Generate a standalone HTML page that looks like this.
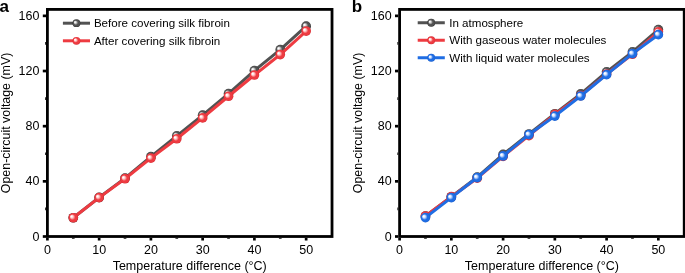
<!DOCTYPE html>
<html><head><meta charset="utf-8"><style>
html,body{margin:0;padding:0;background:#fff;width:685px;height:273px;overflow:hidden}
svg{display:block;will-change:transform}
</style></head><body>
<svg width="685" height="273" viewBox="0 0 685 273">
<defs><radialGradient id="ggray" cx="0.5" cy="0.5" r="0.5" fx="0.29" fy="0.34">
<stop offset="0" stop-color="#ffffff"/><stop offset="0.1" stop-color="#ffffff" stop-opacity="1"/><stop offset="0.3" stop-color="#c8c8c8"/><stop offset="0.6" stop-color="#525252"/><stop offset="0.85" stop-color="#525252"/><stop offset="1" stop-color="#2e2e2e"/></radialGradient><radialGradient id="gred" cx="0.5" cy="0.5" r="0.5" fx="0.29" fy="0.34">
<stop offset="0" stop-color="#ffffff"/><stop offset="0.1" stop-color="#ffffff" stop-opacity="1"/><stop offset="0.3" stop-color="#ffc8c8"/><stop offset="0.6" stop-color="#ee3b41"/><stop offset="0.85" stop-color="#ee3b41"/><stop offset="1" stop-color="#d42c32"/></radialGradient><radialGradient id="gblue" cx="0.5" cy="0.5" r="0.5" fx="0.29" fy="0.34">
<stop offset="0" stop-color="#ffffff"/><stop offset="0.1" stop-color="#ffffff" stop-opacity="1"/><stop offset="0.3" stop-color="#c8dcff"/><stop offset="0.6" stop-color="#1f6de3"/><stop offset="0.85" stop-color="#1f6de3"/><stop offset="1" stop-color="#165ccc"/></radialGradient></defs>
<style>
text{font-family:"Liberation Sans",sans-serif;fill:#000}
.tk{font-size:12.5px}
.ti{font-size:12.4px}
.tx{font-size:12.5px}
.lg{font-size:11.6px}
.pl{font-size:17px;font-weight:bold}
</style>
<polyline points="73.28,217.75 99.15,197.47 125.03,178.17 150.90,156.66 176.78,135.83 202.65,115.15 228.53,93.64 254.40,70.61 280.27,49.65 306.15,26.20" fill="none" stroke="#525252" stroke-width="3" stroke-linejoin="round"/>
<circle cx="73.28" cy="217.75" r="4.85" fill="url(#ggray)"/>
<circle cx="99.15" cy="197.47" r="4.85" fill="url(#ggray)"/>
<circle cx="125.03" cy="178.17" r="4.85" fill="url(#ggray)"/>
<circle cx="150.90" cy="156.66" r="4.85" fill="url(#ggray)"/>
<circle cx="176.78" cy="135.83" r="4.85" fill="url(#ggray)"/>
<circle cx="202.65" cy="115.15" r="4.85" fill="url(#ggray)"/>
<circle cx="228.53" cy="93.64" r="4.85" fill="url(#ggray)"/>
<circle cx="254.40" cy="70.61" r="4.85" fill="url(#ggray)"/>
<circle cx="280.27" cy="49.65" r="4.85" fill="url(#ggray)"/>
<circle cx="306.15" cy="26.20" r="4.85" fill="url(#ggray)"/>
<polyline points="73.28,217.75 99.15,197.61 125.03,178.72 150.90,158.17 176.78,138.73 202.65,117.91 228.53,96.26 254.40,75.02 280.27,54.54 306.15,31.03" fill="none" stroke="#ee3b41" stroke-width="3" stroke-linejoin="round"/>
<circle cx="73.28" cy="217.75" r="4.85" fill="url(#gred)"/>
<circle cx="99.15" cy="197.61" r="4.85" fill="url(#gred)"/>
<circle cx="125.03" cy="178.72" r="4.85" fill="url(#gred)"/>
<circle cx="150.90" cy="158.17" r="4.85" fill="url(#gred)"/>
<circle cx="176.78" cy="138.73" r="4.85" fill="url(#gred)"/>
<circle cx="202.65" cy="117.91" r="4.85" fill="url(#gred)"/>
<circle cx="228.53" cy="96.26" r="4.85" fill="url(#gred)"/>
<circle cx="254.40" cy="75.02" r="4.85" fill="url(#gred)"/>
<circle cx="280.27" cy="54.54" r="4.85" fill="url(#gred)"/>
<circle cx="306.15" cy="31.03" r="4.85" fill="url(#gred)"/>
<rect x="47.4" y="9.4" width="284.62" height="227.10" fill="none" stroke="#000" stroke-width="2.8"/>
<line x1="46.00" x2="42.80" y1="236.50" y2="236.50" stroke="#000" stroke-width="2.7"/>
<text x="39.40" y="240.60" text-anchor="end" class="tk">0</text>
<line x1="46.00" x2="45.20" y1="208.92" y2="208.92" stroke="#000" stroke-width="2.7"/>
<line x1="46.00" x2="42.80" y1="181.34" y2="181.34" stroke="#000" stroke-width="2.7"/>
<text x="39.40" y="185.44" text-anchor="end" class="tk">40</text>
<line x1="46.00" x2="45.20" y1="153.76" y2="153.76" stroke="#000" stroke-width="2.7"/>
<line x1="46.00" x2="42.80" y1="126.18" y2="126.18" stroke="#000" stroke-width="2.7"/>
<text x="39.40" y="130.28" text-anchor="end" class="tk">80</text>
<line x1="46.00" x2="45.20" y1="98.60" y2="98.60" stroke="#000" stroke-width="2.7"/>
<line x1="46.00" x2="42.80" y1="71.02" y2="71.02" stroke="#000" stroke-width="2.7"/>
<text x="39.40" y="75.12" text-anchor="end" class="tk">120</text>
<line x1="46.00" x2="45.20" y1="43.44" y2="43.44" stroke="#000" stroke-width="2.7"/>
<line x1="46.00" x2="42.80" y1="15.86" y2="15.86" stroke="#000" stroke-width="2.7"/>
<text x="39.40" y="19.96" text-anchor="end" class="tk">160</text>
<line x1="47.40" x2="47.40" y1="237.90" y2="240.50" stroke="#000" stroke-width="2.7"/>
<text x="47.40" y="253.50" text-anchor="middle" class="tk">0</text>
<line x1="73.28" x2="73.28" y1="237.90" y2="238.70" stroke="#000" stroke-width="2.7"/>
<line x1="99.15" x2="99.15" y1="237.90" y2="240.50" stroke="#000" stroke-width="2.7"/>
<text x="99.15" y="253.50" text-anchor="middle" class="tk">10</text>
<line x1="125.03" x2="125.03" y1="237.90" y2="238.70" stroke="#000" stroke-width="2.7"/>
<line x1="150.90" x2="150.90" y1="237.90" y2="240.50" stroke="#000" stroke-width="2.7"/>
<text x="150.90" y="253.50" text-anchor="middle" class="tk">20</text>
<line x1="176.78" x2="176.78" y1="237.90" y2="238.70" stroke="#000" stroke-width="2.7"/>
<line x1="202.65" x2="202.65" y1="237.90" y2="240.50" stroke="#000" stroke-width="2.7"/>
<text x="202.65" y="253.50" text-anchor="middle" class="tk">30</text>
<line x1="228.53" x2="228.53" y1="237.90" y2="238.70" stroke="#000" stroke-width="2.7"/>
<line x1="254.40" x2="254.40" y1="237.90" y2="240.50" stroke="#000" stroke-width="2.7"/>
<text x="254.40" y="253.50" text-anchor="middle" class="tk">40</text>
<line x1="280.27" x2="280.27" y1="237.90" y2="238.70" stroke="#000" stroke-width="2.7"/>
<line x1="306.15" x2="306.15" y1="237.90" y2="240.50" stroke="#000" stroke-width="2.7"/>
<text x="306.15" y="253.50" text-anchor="middle" class="tk">50</text>
<text x="189.71" y="270" text-anchor="middle" class="tx">Temperature difference (°C)</text>
<text transform="translate(9.60,122.95) rotate(-90)" x="0" y="0" text-anchor="middle" class="ti">Open-circuit voltage (mV)</text>
<line x1="62.90" x2="90.00" y1="23.20" y2="23.20" stroke="#525252" stroke-width="3"/>
<circle cx="76.45" cy="23.20" r="3.9" fill="url(#ggray)"/>
<text x="93.90" y="27.30" class="lg">Before covering silk fibroin</text>
<line x1="62.90" x2="90.00" y1="40.80" y2="40.80" stroke="#ee3b41" stroke-width="3"/>
<circle cx="76.45" cy="40.80" r="3.9" fill="url(#gred)"/>
<text x="93.90" y="44.90" class="lg">After covering silk fibroin</text>
<text x="-0.50" y="11.7" class="pl">a</text>
<polyline points="425.47,216.09 451.35,196.78 477.22,177.07 503.10,154.45 528.97,134.04 554.85,113.77 580.72,93.91 606.60,71.85 632.47,51.85 658.35,29.65" fill="none" stroke="#525252" stroke-width="3" stroke-linejoin="round"/>
<circle cx="425.47" cy="216.09" r="4.85" fill="url(#ggray)"/>
<circle cx="451.35" cy="196.78" r="4.85" fill="url(#ggray)"/>
<circle cx="477.22" cy="177.07" r="4.85" fill="url(#ggray)"/>
<circle cx="503.10" cy="154.45" r="4.85" fill="url(#ggray)"/>
<circle cx="528.97" cy="134.04" r="4.85" fill="url(#ggray)"/>
<circle cx="554.85" cy="113.77" r="4.85" fill="url(#ggray)"/>
<circle cx="580.72" cy="93.91" r="4.85" fill="url(#ggray)"/>
<circle cx="606.60" cy="71.85" r="4.85" fill="url(#ggray)"/>
<circle cx="632.47" cy="51.85" r="4.85" fill="url(#ggray)"/>
<circle cx="658.35" cy="29.65" r="4.85" fill="url(#ggray)"/>
<polyline points="425.47,216.02 451.35,196.72 477.22,178.17 503.10,156.38 528.97,135.63 554.85,114.46 580.72,95.57 606.60,74.05 632.47,54.27 658.35,31.86" fill="none" stroke="#ee3b41" stroke-width="3" stroke-linejoin="round"/>
<circle cx="425.47" cy="216.02" r="4.85" fill="url(#gred)"/>
<circle cx="451.35" cy="196.72" r="4.85" fill="url(#gred)"/>
<circle cx="477.22" cy="178.17" r="4.85" fill="url(#gred)"/>
<circle cx="503.10" cy="156.38" r="4.85" fill="url(#gred)"/>
<circle cx="528.97" cy="135.63" r="4.85" fill="url(#gred)"/>
<circle cx="554.85" cy="114.46" r="4.85" fill="url(#gred)"/>
<circle cx="580.72" cy="95.57" r="4.85" fill="url(#gred)"/>
<circle cx="606.60" cy="74.05" r="4.85" fill="url(#gred)"/>
<circle cx="632.47" cy="54.27" r="4.85" fill="url(#gred)"/>
<circle cx="658.35" cy="31.86" r="4.85" fill="url(#gred)"/>
<polyline points="425.47,217.61 451.35,197.61 477.22,177.55 503.10,155.97 528.97,134.59 554.85,116.11 580.72,95.98 606.60,74.67 632.47,53.64 658.35,34.68" fill="none" stroke="#1f6de3" stroke-width="3" stroke-linejoin="round"/>
<circle cx="425.47" cy="217.61" r="4.85" fill="url(#gblue)"/>
<circle cx="451.35" cy="197.61" r="4.85" fill="url(#gblue)"/>
<circle cx="477.22" cy="177.55" r="4.85" fill="url(#gblue)"/>
<circle cx="503.10" cy="155.97" r="4.85" fill="url(#gblue)"/>
<circle cx="528.97" cy="134.59" r="4.85" fill="url(#gblue)"/>
<circle cx="554.85" cy="116.11" r="4.85" fill="url(#gblue)"/>
<circle cx="580.72" cy="95.98" r="4.85" fill="url(#gblue)"/>
<circle cx="606.60" cy="74.67" r="4.85" fill="url(#gblue)"/>
<circle cx="632.47" cy="53.64" r="4.85" fill="url(#gblue)"/>
<circle cx="658.35" cy="34.68" r="4.85" fill="url(#gblue)"/>
<rect x="399.59999999999997" y="9.4" width="284.62" height="227.10" fill="none" stroke="#000" stroke-width="2.8"/>
<line x1="398.20" x2="395.00" y1="236.50" y2="236.50" stroke="#000" stroke-width="2.7"/>
<text x="391.60" y="240.60" text-anchor="end" class="tk">0</text>
<line x1="398.20" x2="397.40" y1="208.92" y2="208.92" stroke="#000" stroke-width="2.7"/>
<line x1="398.20" x2="395.00" y1="181.34" y2="181.34" stroke="#000" stroke-width="2.7"/>
<text x="391.60" y="185.44" text-anchor="end" class="tk">40</text>
<line x1="398.20" x2="397.40" y1="153.76" y2="153.76" stroke="#000" stroke-width="2.7"/>
<line x1="398.20" x2="395.00" y1="126.18" y2="126.18" stroke="#000" stroke-width="2.7"/>
<text x="391.60" y="130.28" text-anchor="end" class="tk">80</text>
<line x1="398.20" x2="397.40" y1="98.60" y2="98.60" stroke="#000" stroke-width="2.7"/>
<line x1="398.20" x2="395.00" y1="71.02" y2="71.02" stroke="#000" stroke-width="2.7"/>
<text x="391.60" y="75.12" text-anchor="end" class="tk">120</text>
<line x1="398.20" x2="397.40" y1="43.44" y2="43.44" stroke="#000" stroke-width="2.7"/>
<line x1="398.20" x2="395.00" y1="15.86" y2="15.86" stroke="#000" stroke-width="2.7"/>
<text x="391.60" y="19.96" text-anchor="end" class="tk">160</text>
<line x1="399.60" x2="399.60" y1="237.90" y2="240.50" stroke="#000" stroke-width="2.7"/>
<text x="399.60" y="253.50" text-anchor="middle" class="tk">0</text>
<line x1="425.47" x2="425.47" y1="237.90" y2="238.70" stroke="#000" stroke-width="2.7"/>
<line x1="451.35" x2="451.35" y1="237.90" y2="240.50" stroke="#000" stroke-width="2.7"/>
<text x="451.35" y="253.50" text-anchor="middle" class="tk">10</text>
<line x1="477.22" x2="477.22" y1="237.90" y2="238.70" stroke="#000" stroke-width="2.7"/>
<line x1="503.10" x2="503.10" y1="237.90" y2="240.50" stroke="#000" stroke-width="2.7"/>
<text x="503.10" y="253.50" text-anchor="middle" class="tk">20</text>
<line x1="528.97" x2="528.97" y1="237.90" y2="238.70" stroke="#000" stroke-width="2.7"/>
<line x1="554.85" x2="554.85" y1="237.90" y2="240.50" stroke="#000" stroke-width="2.7"/>
<text x="554.85" y="253.50" text-anchor="middle" class="tk">30</text>
<line x1="580.72" x2="580.72" y1="237.90" y2="238.70" stroke="#000" stroke-width="2.7"/>
<line x1="606.60" x2="606.60" y1="237.90" y2="240.50" stroke="#000" stroke-width="2.7"/>
<text x="606.60" y="253.50" text-anchor="middle" class="tk">40</text>
<line x1="632.47" x2="632.47" y1="237.90" y2="238.70" stroke="#000" stroke-width="2.7"/>
<line x1="658.35" x2="658.35" y1="237.90" y2="240.50" stroke="#000" stroke-width="2.7"/>
<text x="658.35" y="253.50" text-anchor="middle" class="tk">50</text>
<text x="541.91" y="270" text-anchor="middle" class="tx">Temperature difference (°C)</text>
<text transform="translate(361.80,122.95) rotate(-90)" x="0" y="0" text-anchor="middle" class="ti">Open-circuit voltage (mV)</text>
<line x1="417.70" x2="444.80" y1="22.75" y2="22.75" stroke="#525252" stroke-width="3"/>
<circle cx="431.25" cy="22.75" r="3.9" fill="url(#ggray)"/>
<text x="449.20" y="26.85" class="lg">In atmosphere</text>
<line x1="417.70" x2="444.80" y1="40.25" y2="40.25" stroke="#ee3b41" stroke-width="3"/>
<circle cx="431.25" cy="40.25" r="3.9" fill="url(#gred)"/>
<text x="449.20" y="44.35" class="lg">With gaseous water molecules</text>
<line x1="417.70" x2="444.80" y1="57.75" y2="57.75" stroke="#1f6de3" stroke-width="3"/>
<circle cx="431.25" cy="57.75" r="3.9" fill="url(#gblue)"/>
<text x="449.20" y="61.85" class="lg">With liquid water molecules</text>
<text x="351.70" y="11.7" class="pl">b</text>
</svg>
</body></html>
